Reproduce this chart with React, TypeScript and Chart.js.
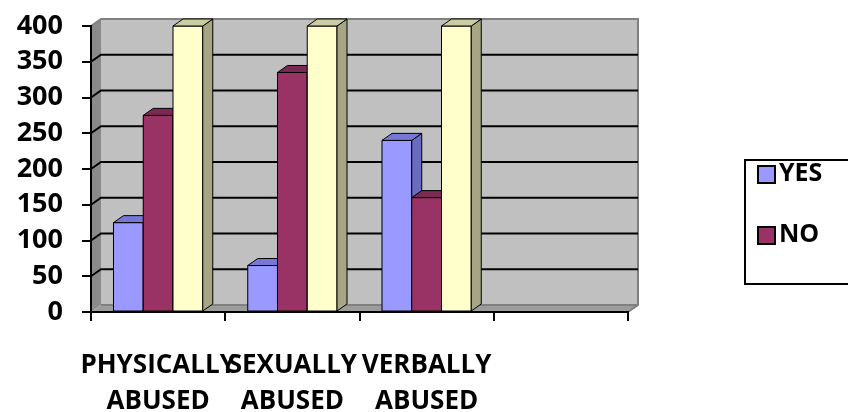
import React, { useEffect, useRef } from "react";
import { Chart, registerables } from "chart.js";

Chart.register(...registerables);

// ---- data ----
const categories: (string | string[])[] = [
  ["PHYSICALLY", "ABUSED"],
  ["SEXUALLY", "ABUSED"],
  ["VERBALLY", "ABUSED"],
  "",
];
const seriesNames = ["YES", "NO", "TOTAL"];
const yesValues = [125, 65, 240, null];
const noValues = [275, 335, 160, null];
const totalValues = [400, 400, 400, null];
const legendNames = ["YES", "NO"];
const yMin = 0;
const yMax = 400;
const yStep = 50;

// ---- styles ----
const FONT = "'Open Sans'";
const frontColors = ["#9999FF", "#993366", "#FFFFCC"];
const topColors = ["#7777D6", "#7A2952", "#CCCCA3"];
const sideColors = ["#6B6BBF", "#6B2447", "#A6A685"];
const DX = 10;
const DY = 7;

const threeDPlugin = {
  id: "threeD",
  beforeDraw(chart: any) {
    const { ctx, chartArea } = chart;
    const { left, right, top, bottom } = chartArea;
    const y = chart.scales.y;
    ctx.save();
    ctx.fillStyle = "#C0C0C0";
    ctx.fillRect(left + DX, top - DY, right - left, bottom - top);
    ctx.fillStyle = "#8A8A8A";
    ctx.beginPath();
    ctx.moveTo(left, top);
    ctx.lineTo(left + DX, top - DY);
    ctx.lineTo(left + DX, bottom - DY);
    ctx.lineTo(left, bottom);
    ctx.closePath();
    ctx.fill();
    ctx.fillStyle = "#9C9C9C";
    ctx.beginPath();
    ctx.moveTo(left, bottom);
    ctx.lineTo(left + DX, bottom - DY);
    ctx.lineTo(right + DX, bottom - DY);
    ctx.lineTo(right, bottom);
    ctx.closePath();
    ctx.fill();
    ctx.strokeStyle = "#808080";
    ctx.lineWidth = 2;
    ctx.beginPath();
    ctx.moveTo(left, top);
    ctx.lineTo(left + DX, top - DY);
    ctx.lineTo(right + DX, top - DY);
    ctx.lineTo(right + DX, bottom - DY);
    ctx.lineTo(right, bottom);
    ctx.stroke();
    ctx.beginPath();
    ctx.moveTo(left + DX, bottom - DY);
    ctx.lineTo(right + DX, bottom - DY);
    ctx.stroke();
    ctx.strokeStyle = "#000";
    ctx.lineWidth = 2;
    for (let v = yMin + yStep; v < yMax; v += yStep) {
      const py = y.getPixelForValue(v);
      ctx.beginPath();
      ctx.moveTo(left, py);
      ctx.lineTo(left + DX, py - DY);
      ctx.lineTo(right + DX, py - DY);
      ctx.stroke();
    }
    ctx.restore();
  },
  afterDatasetsDraw(chart: any) {
    const { ctx } = chart;
    ctx.save();
    ctx.lineWidth = 1;
    ctx.strokeStyle = "#000";
    ctx.lineJoin = "round";
    chart.data.datasets.forEach((_: any, di: number) => {
      const meta = chart.getDatasetMeta(di);
      meta.data.forEach((el: any, i: number) => {
        const v = chart.data.datasets[di].data[i];
        if (v === null || v === undefined) return;
        const x1 = el.x - el.width / 2;
        const x2 = el.x + el.width / 2;
        const yt = el.y;
        const yb = el.base;
        ctx.fillStyle = frontColors[di];
        ctx.fillRect(x1, yt, x2 - x1, yb - yt);
        ctx.strokeRect(x1, yt, x2 - x1, yb - yt);
        ctx.fillStyle = sideColors[di];
        ctx.beginPath();
        ctx.moveTo(x2, yt);
        ctx.lineTo(x2 + DX, yt - DY);
        ctx.lineTo(x2 + DX, yb - DY);
        ctx.lineTo(x2, yb);
        ctx.closePath();
        ctx.fill();
        ctx.stroke();
        ctx.fillStyle = topColors[di];
        ctx.beginPath();
        ctx.moveTo(x1, yt);
        ctx.lineTo(x1 + DX, yt - DY);
        ctx.lineTo(x2 + DX, yt - DY);
        ctx.lineTo(x2, yt);
        ctx.closePath();
        ctx.fill();
        ctx.stroke();
      });
    });
    ctx.restore();
  },
  afterDraw(chart: any) {
    const { ctx } = chart;
    ctx.save();
    ctx.strokeStyle = "#000";
    ctx.lineWidth = 2;
    ctx.strokeRect(745, 160, 130, 124);
    const rows = [174, 235];
    legendNames.forEach((name, i) => {
      const cy = rows[i];
      ctx.fillStyle = frontColors[i];
      ctx.fillRect(758, cy - 8, 17, 17);
      ctx.strokeRect(758, cy - 8, 17, 17);
      ctx.fillStyle = "#000";
      ctx.font = `bold 25px ${FONT}`;
      ctx.textBaseline = "middle";
      ctx.textAlign = "left";
      ctx.fillText(name, 779, cy);
    });
    ctx.restore();
  },
};

export default function App() {
  const ref = useRef<HTMLCanvasElement | null>(null);
  useEffect(() => {
    document.body.style.margin = "0";
    if (!ref.current) return;
    const chart = new Chart(ref.current, {
      type: "bar",
      data: {
        labels: categories,
        datasets: [
          { label: seriesNames[0], data: yesValues, backgroundColor: frontColors[0] },
          { label: seriesNames[1], data: noValues, backgroundColor: frontColors[1] },
          { label: seriesNames[2], data: totalValues, backgroundColor: frontColors[2] },
        ],
      },
      options: {
        responsive: false,
        animation: false,
        layout: { padding: { left: 0, right: 220, top: 26, bottom: 0 } },
        datasets: { bar: { categoryPercentage: 0.665, barPercentage: 1 } },
        plugins: { legend: { display: false }, tooltip: { enabled: false } },
        scales: {
          x: {
            grid: { drawOnChartArea: false, drawTicks: true, tickLength: 9, color: "#000", lineWidth: 2, offset: true },
            border: { color: "#000", width: 2 },
            ticks: {
              color: "#000",
              font: { family: FONT, weight: "bold", size: 26, lineHeight: 1.4 },
              maxRotation: 0,
              minRotation: 0,
              autoSkip: false,
              padding: 26,
            },
            afterFit: (s: any) => {
              s.height = 100;
              s.paddingTop = 0;
              s.paddingBottom = 0;
            },
          },
          y: {
            min: yMin,
            max: yMax,
            grid: { drawOnChartArea: false, drawTicks: true, tickLength: 9, color: "#000", lineWidth: 2 },
            border: { color: "#000", width: 2 },
            ticks: {
              stepSize: yStep,
              color: "#000",
              font: { family: FONT, weight: "bold", size: 27 },
              padding: 19,
            },
            afterFit: (s: any) => {
              s.width = 91;
              s.paddingTop = 0;
              s.paddingBottom = 0;
            },
          },
        },
      } as any,
      plugins: [threeDPlugin],
    });
    return () => chart.destroy();
  }, []);
  return (
    <div style={{ width: 848, height: 412, position: "relative", background: "#fff" }}>
      <canvas ref={ref} width={848} height={412} />
    </div>
  );
}
